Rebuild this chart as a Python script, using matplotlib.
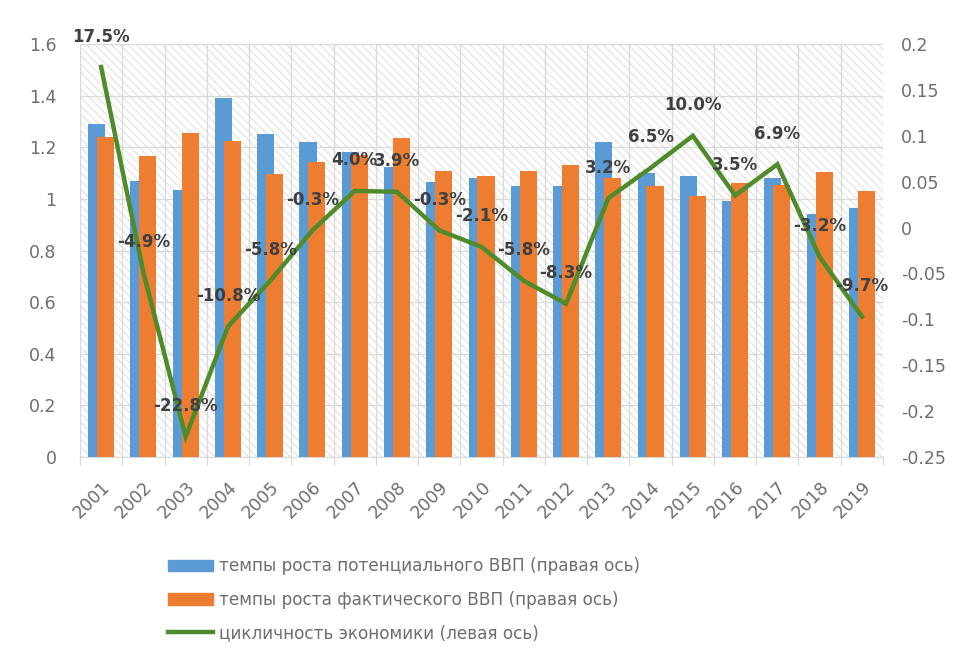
import numpy as np
import matplotlib
matplotlib.use("Agg")
import matplotlib.pyplot as plt
from matplotlib.patches import Patch
from matplotlib.lines import Line2D

# === DATA ===
years = [str(y) for y in range(2001, 2020)]
potential = [1.29, 1.07, 1.035, 1.39, 1.25, 1.22, 1.18, 1.125, 1.065, 1.08,
             1.05, 1.05, 1.22, 1.10, 1.09, 0.99, 1.08, 0.94, 0.965]
actual = [1.24, 1.165, 1.255, 1.225, 1.095, 1.145, 1.17, 1.235, 1.11, 1.09,
          1.11, 1.13, 1.08, 1.05, 1.01, 1.06, 1.055, 1.105, 1.03]
cycle = [0.175, -0.049, -0.228, -0.108, -0.058, -0.003, 0.040, 0.039, -0.003, -0.021,
         -0.058, -0.083, 0.032, 0.065, 0.100, 0.035, 0.069, -0.032, -0.097]
left_ticks = [0, 0.2, 0.4, 0.6, 0.8, 1, 1.2, 1.4, 1.6]
right_ticks = [-0.25, -0.2, -0.15, -0.1, -0.05, 0, 0.05, 0.1, 0.15, 0.2]

legend_labels = ["темпы роста потенциального ВВП (правая ось)",
                 "темпы роста фактического ВВП (правая ось)",
                 "цикличность экономики (левая ось)"]

# === STYLE ===
blue = "#5b9bd5"
orange = "#ed7d31"
green = "#4f8a2b"
grid_c = "#d9d9d9"
tick_c = "#6e6e6e"
label_c = "#404040"
plt.rcParams["font.family"] = ["DejaVu Sans"]
plt.rcParams["hatch.linewidth"] = 0.7

fig = plt.figure(figsize=(9.64, 6.49), dpi=100)
ax = fig.add_axes([0.083, 0.296, 0.833, 0.636])

# hatched plot area
ax.patch.set_facecolor("white")
ax.patch.set_hatch("\\\\\\\\")
ax.patch.set_edgecolor("#dedede")
ax.patch.set_linewidth(0)

x = np.arange(len(years))
w = 0.405
ax.bar(x - 0.105, potential, w, color=blue, zorder=3)
ax.bar(x + 0.105, actual, w, color=orange, zorder=3)

ax.set_xlim(-0.5, len(years) - 0.5)
ax.set_ylim(0, 1.6)
ax.set_yticks(left_ticks)
ax.set_yticklabels(["{:g}".format(t) for t in left_ticks])
ax.set_xticks(x)
ax.set_xticklabels(years, rotation=45, ha="right", rotation_mode="anchor")
ax.set_xticks(np.arange(-0.5, len(years)), minor=True)

ax.grid(True, axis="y", color=grid_c, lw=0.9, zorder=1)
ax.grid(True, axis="x", which="minor", color=grid_c, lw=0.9, zorder=1)
ax.set_axisbelow(True)
ax.tick_params(axis="y", length=0, pad=17, labelsize=12.5, labelcolor=tick_c)
ax.tick_params(axis="x", which="major", length=0, pad=15, labelsize=12.5, labelcolor=tick_c)
ax.tick_params(axis="x", which="minor", length=6, color=grid_c, width=0.9)
for s in ["top", "left", "right"]:
    ax.spines[s].set_visible(False)
ax.spines["bottom"].set_color(grid_c)

# line on the second axis
ax2 = ax.twinx()
ax2.plot(x, cycle, color=green, lw=3.2, zorder=4, solid_joinstyle="miter")
ax2.set_ylim(-0.25, 0.2)
ax2.set_yticks(right_ticks)
ax2.set_yticklabels(["{:g}".format(t) for t in right_ticks])
ax2.tick_params(axis="y", length=0, pad=13, labelsize=12.5, labelcolor=tick_c)
for s in ax2.spines.values():
    s.set_visible(False)

for xi, v in zip(x, cycle):
    ax2.annotate(f"{v*100:.1f}%", (xi, v), xytext=(0, 22), textcoords="offset points",
                 ha="center", va="center", fontsize=12, fontweight="bold",
                 color=label_c, zorder=5, annotation_clip=False)

handles = [Patch(color=blue), Patch(color=orange), Line2D([], [], color=green, lw=3.2)]
fig.legend(handles, legend_labels, loc="upper left", bbox_to_anchor=(0.174, 0.141),
           frameon=False, fontsize=12.2, labelcolor=tick_c, handlelength=2.7,
           handletextpad=0.3, labelspacing=0.9, borderaxespad=0, borderpad=0)

fig.savefig("out.png", dpi=100)
